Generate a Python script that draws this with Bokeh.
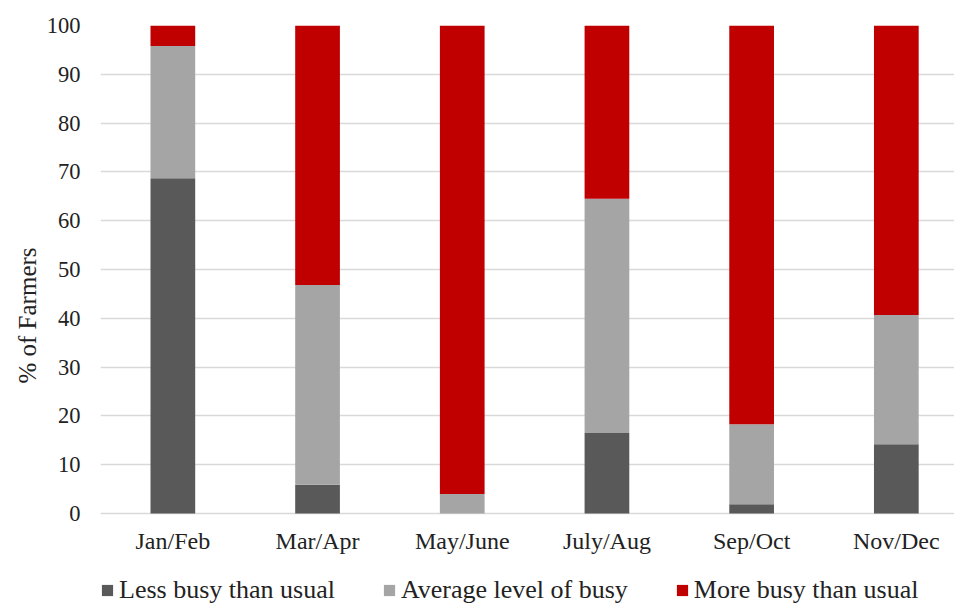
from bokeh.plotting import figure
from bokeh.models import (ColumnDataSource, Range1d, FixedTicker, Legend, LegendItem, Title)
from bokeh.core.properties import value
from bokeh.embed import file_html
from bokeh.resources import INLINE

# Share of farmers by how busy each two-month period is (%)
periods = ["Jan/Feb", "Mar/Apr", "May/June", "July/Aug", "Sep/Oct", "Nov/Dec"]
less_busy = [68.7, 5.9, 0.0, 16.5, 1.9, 14.2]
average_busy = [27.1, 40.9, 4.0, 48.0, 16.4, 26.5]
more_busy = [4.2, 53.2, 96.0, 35.5, 81.7, 59.3]

series = ["less", "avg", "more"]
series_labels = ["Less busy than usual", "Average level of busy", "More busy than usual"]
colors = ["#595959", "#a5a5a5", "#c00000"]
y_ticks = list(range(0, 101, 10))

FONT = "Liberation Serif"
TEXT_COLOR = "#222222"

x_pos = [i + 0.5 for i in range(len(periods))]
source = ColumnDataSource(dict(x=x_pos, less=less_busy, avg=average_busy, more=more_busy,
                               period=periods))

# The plot frame runs down to the bottom edge so the period labels and the
# legend can sit beneath the zero line; the y ticks stop at 0.
p = figure(
    width=954, height=605,
    x_range=Range1d(0, 5.902), y_range=Range1d(-18.85, 100),
    x_axis_location=None,
    output_backend="svg", toolbar_location=None,
    min_border_left=100, min_border_right=0, min_border_top=25, min_border_bottom=0,
)
p.outline_line_color = None
p.background_fill_color = "white"
p.border_fill_color = "white"

renderers = p.vbar_stack(series, x="x", width=0.309, color=colors,
                         line_color=None, source=source)

# Period labels under each bar
p.text(x="x", y=-5.7, text="period", source=source,
       text_font=value(FONT), text_font_size=value("24px"), text_color=TEXT_COLOR,
       text_align="center", text_baseline="middle")

# Y axis
yax = p.yaxis[0]
yax.ticker = FixedTicker(ticks=y_ticks)
yax.axis_line_color = None
yax.major_tick_line_color = None
yax.minor_tick_line_color = None
yax.major_tick_out = 0
yax.major_tick_in = 0
yax.major_label_text_font = FONT
yax.major_label_text_font_size = "22.5px"
yax.major_label_text_color = TEXT_COLOR
yax.major_label_standoff = 20

# Y axis title, centred on the 0-100 span
ytitle = Title(text="% of Farmers", align="center", offset=46, standoff=6,
               text_font=FONT, text_font_size="25px", text_font_style="normal",
               text_color=TEXT_COLOR)
p.add_layout(ytitle, "left")

# Grid
p.xgrid.grid_line_color = None
p.ygrid.ticker = FixedTicker(ticks=y_ticks)
p.ygrid.grid_line_color = "#d9d9d9"
p.ygrid.grid_line_width = 1.5

# Legend along the bottom
legend = Legend(
    items=[LegendItem(label=lab, renderers=[r]) for lab, r in zip(series_labels, renderers)],
    orientation="horizontal",
    location=(0, 0),
    glyph_width=14, glyph_height=14,
    label_standoff=5, spacing=47,
    padding=0, margin=0,
    border_line_color=None, background_fill_alpha=0,
    label_text_font=FONT, label_text_font_size="26px", label_text_color=TEXT_COLOR,
)
p.add_layout(legend, "center")

open("out.html", "w").write(file_html(p, INLINE))
